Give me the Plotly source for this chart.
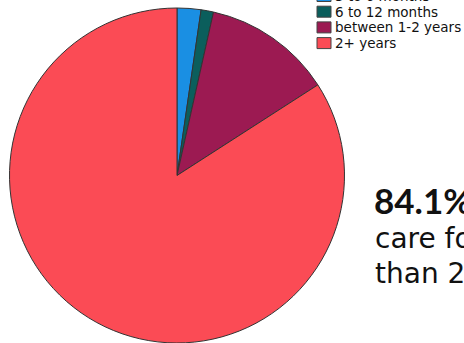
import plotly.graph_objects as go

labels = ["3 to 6 months", "6 to 12 months", "between 1-2 years", "2+ years"]
values = [2.3, 1.2, 12.4, 84.1]
colors = ["#1a8fe3", "#0b5e5c", "#9c1a52", "#fb4b55"]

W, H = 464, 343


def px(x):
    return x / W


def py(y):
    return 1 - y / H


fig = go.Figure(go.Pie(
    labels=labels, values=values, sort=False, direction="clockwise", rotation=0,
    marker=dict(colors=colors, line=dict(color="#333333", width=1)),
    textinfo="none", hoverinfo="label+percent", showlegend=False,
    domain=dict(x=[px(9), px(345)], y=[0, py(8)]),
))

# custom legend (top row partially cut off, as in the reference)
shapes = []
annotations = []
row_top0 = -9.5
pitch = 15.7
for i, (lab, col) in enumerate(zip(labels, colors)):
    top = row_top0 + i * pitch
    shapes.append(dict(type="rect", xref="paper", yref="paper",
                       x0=px(317), x1=px(331), y0=py(top), y1=py(top + 11),
                       fillcolor=col, line=dict(color="#444444", width=1)))
    annotations.append(dict(text=lab, xref="paper", yref="paper",
                            x=px(333), y=py(top + 5.5), xanchor="left", yanchor="middle",
                            showarrow=False,
                            font=dict(family="DejaVu Sans", size=13.5, color="#111111")))

annotations += [
    dict(text="<b>84.1%</b> of patients", x=px(372), y=py(200), xref="paper", yref="paper",
         xanchor="left", yanchor="middle", showarrow=False,
         font=dict(family="Lato", size=35, color="#111111")),
    dict(text="care for more", x=px(373), y=py(238), xref="paper", yref="paper",
         xanchor="left", yanchor="middle", showarrow=False,
         font=dict(family="DejaVu Sans", size=28, color="#111111")),
    dict(text="than 2 years", x=px(373), y=py(273), xref="paper", yref="paper",
         xanchor="left", yanchor="middle", showarrow=False,
         font=dict(family="DejaVu Sans", size=28, color="#111111")),
]

fig.update_layout(
    width=W, height=H, margin=dict(l=0, r=0, t=0, b=0, autoexpand=False),
    paper_bgcolor="white", plot_bgcolor="white",
    showlegend=False, shapes=shapes, annotations=annotations,
)

fig.write_html("out.html", config={"displayModeBar": False},
               post_script="document.body.style.margin='0';")
